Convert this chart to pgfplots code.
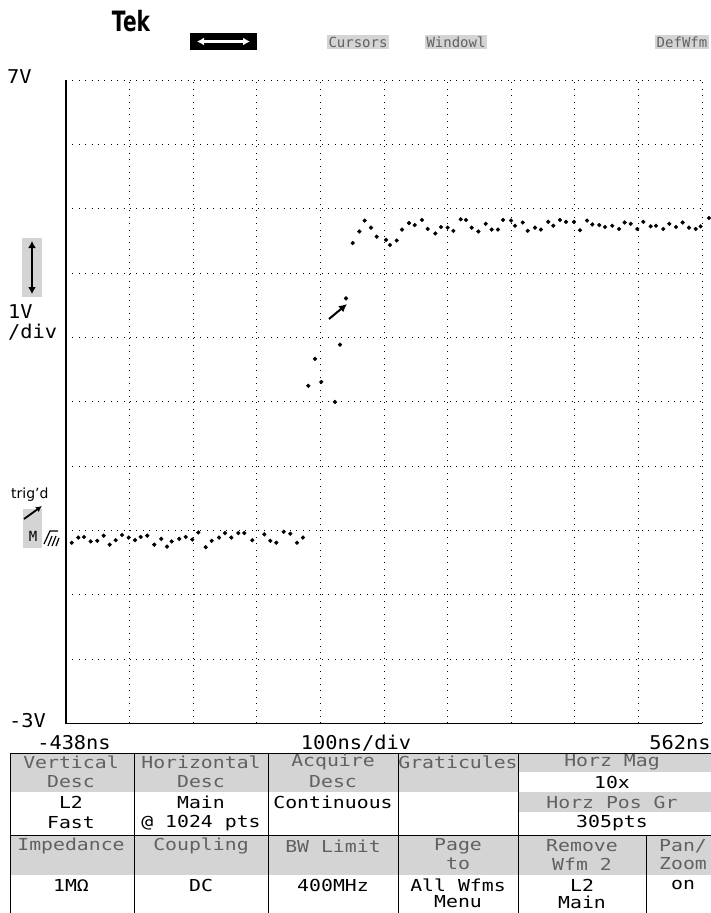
\documentclass[border=0pt]{standalone}
\usepackage{pgfplots}
\usepackage{pgfplotstable}
\pgfplotsset{compat=1.18}
\usepackage{fontspec}
\setmainfont{DejaVu Sans}
\setmonofont{DejaVu Sans Mono}
\usetikzlibrary{arrows.meta}

% sampled trace, time in ns, level in V
\pgfplotstableread{
t v
-429.0 -0.19
-418.7 -0.11
-409.7 -0.10
-399.2 -0.17
-388.8 -0.16
-378.7 -0.08
-369.3 -0.22
-359.9 -0.15
-350.0 -0.07
-339.4 -0.11
-329.5 -0.15
-320.6 -0.10
-310.2 -0.08
-299.2 -0.22
-288.2 -0.13
-279.2 -0.25
-271.8 -0.17
-259.9 -0.13
-249.8 -0.10
-239.4 -0.14
-230.0 -0.03
-218.4 -0.26
-208.9 -0.16
-197.4 -0.11
-188.0 -0.04
-178.1 -0.11
-167.1 -0.04
-157.7 -0.04
-145.1 -0.15
-126.2 -0.06
-116.8 -0.16
-107.3 -0.19
-95.7 -0.02
-85.3 -0.05
-74.8 -0.19
-65.4 -0.11
-57.0 2.25
-46.5 2.67
-36.6 2.31
-15.1 2.00
-7.2 2.89
2.2 3.61
12.8 4.47
23.2 4.65
31.6 4.82
41.5 4.71
50.5 4.57
65.1 4.52
71.4 4.44
82.0 4.51
90.3 4.68
101.3 4.78
110.3 4.75
121.7 4.83
130.7 4.69
142.7 4.62
151.6 4.72
162.1 4.71
171.0 4.66
182.6 4.84
190.9 4.83
199.9 4.71
210.3 4.65
221.9 4.77
231.3 4.68
241.2 4.68
249.1 4.83
261.7 4.82
268.0 4.74
280.1 4.79
287.9 4.66
299.4 4.71
308.8 4.68
320.3 4.80
328.2 4.74
338.7 4.83
348.2 4.80
360.7 4.80
370.2 4.67
381.2 4.82
389.5 4.76
400.5 4.75
409.5 4.72
420.9 4.74
431.5 4.69
440.4 4.79
449.9 4.77
460.3 4.69
469.7 4.80
481.3 4.73
489.7 4.74
501.1 4.69
510.6 4.77
521.1 4.72
531.6 4.79
541.5 4.71
552.1 4.69
559.9 4.73
573.0 4.86
}\trace

\newcommand\scr{\fontsize{19}{21}\selectfont\ttfamily}
\newcommand\mnu{\fontsize{16.5}{18}\selectfont\ttfamily}
\newcommand\barfont{\fontsize{14}{16}\selectfont\ttfamily}
\colorlet{stip}{black!17}
\colorlet{htxt}{black!62}

\begin{document}
\begin{tikzpicture}[x=1pt,y=-1pt]
\fill[white] (0,0) rectangle (711,913);
\useasboundingbox (0,0) rectangle (711,913);

\begin{axis}[
  at={(66pt,-723.4pt)}, anchor=south west,
  scale only axis, width=636pt, height=643pt,
  xmin=-438, xmax=562, ymin=-3, ymax=7,
  xtick={-338,-238,...,562}, ytick={-2,-1,...,7},
  xticklabels={}, yticklabels={}, major tick length=0pt,
  grid=major,
  grid style={black, line width=1pt, dash pattern=on 1pt off 5.4pt},
  axis line style={draw=none},
  clip=false,
]
\addplot[only marks, mark=*, mark size=1.9pt, black] table {\trace};
\end{axis}

% solid left and bottom edges of graticule
\draw[line width=1.8pt] (66,80) -- (66,723.4) -- (702,723.4);
% trigger level marker
\draw[-{Latex[length=8pt,width=8pt]}, line width=2pt] (329,319) -- (347,304);

% top bar
\node[font=\fontsize{28}{28}\selectfont\bfseries, xscale=0.72] at (131,21) {Tek};
\fill[black] (190,33) rectangle (257,50);
\draw[white, line width=2.5pt, {Latex[length=7pt,width=8pt]}-{Latex[length=7pt,width=8pt]}] (197,41.5) -- (250,41.5);
\node[font=\barfont, fill=stip, text=htxt, inner sep=1.5pt] at (358,42) {Cursors};
\node[font=\barfont, fill=stip, text=htxt, inner sep=1.5pt] at (456,42) {Windowl};
\node[font=\barfont, fill=stip, text=htxt, inner sep=1.5pt] at (682,42) {DefWfm};

% left labels
\node[font=\scr, xscale=1.07, anchor=west, inner sep=0pt] at (7,77) {7V};
\fill[stip] (22,238) rectangle (42,297);
\draw[line width=2pt, {Latex[length=7pt,width=8pt]}-{Latex[length=7pt,width=8pt]}] (32,241) -- (32,294);
\node[font=\scr, xscale=1.07, anchor=west, inner sep=0pt] at (8,312) {1V};
\node[font=\scr, xscale=1.07, anchor=west, inner sep=0pt] at (8,332) {/div};
\node[font=\fontsize{14}{16}\selectfont, anchor=west, inner sep=0pt] at (11,495) {trig'd};
\fill[stip] (23,509) rectangle (42,548);
\draw[-{Latex[length=6pt,width=6pt]}, line width=1.8pt] (24,519) -- (42,506);
\node[font=\fontsize{14}{16}\selectfont\ttfamily, inner sep=0pt] at (33,536) {M};
\draw[line width=1.2pt] (44,544) -- (50,531) -- (58,531);
\draw[line width=1.2pt] (48,546) -- (52,536) (52,546) -- (56,536) (56,546) -- (59,538);
\node[font=\scr, xscale=1.07, anchor=west, inner sep=0pt] at (9,721) {-3V};

% horizontal scale
\node[font=\scr, xscale=1.07, inner sep=0pt] at (74,743) {-438ns};
\node[font=\scr, xscale=1.07, inner sep=0pt] at (356,743) {100ns/div};
\node[font=\scr, xscale=1.07, inner sep=0pt] at (680,743) {562ns};

% menu
\fill[stip] (10,753) rectangle (518,792);
\fill[stip] (518,753) rectangle (711,772);
\fill[stip] (518,792) rectangle (711,812);
\fill[stip] (10,835) rectangle (711,875);
\draw[line width=1pt] (10,753) -- (711,753) (10,835) -- (711,835);
\draw[line width=1pt] (10,753) -- (10,913) (134,753) -- (134,913) (268,753) -- (268,913)
  (398,753) -- (398,913) (518,753) -- (518,913) (646,835) -- (646,913);

\begin{scope}[every node/.style={font=\mnu, xscale=1.2, inner sep=0pt}]
\node[text=htxt] at (71,762) {Vertical};
\node[text=htxt] at (71,782) {Desc};
\node at (71,802) {L2};
\node at (71,823) {Fast};
\node[text=htxt] at (201,762) {Horizontal};
\node[text=htxt] at (201,782) {Desc};
\node at (201,802) {Main};
\node at (201,823) {@ 1024 pts};
\node[text=htxt] at (333,762) {Acquire};
\node[text=htxt] at (333,782) {Desc};
\node at (333,802) {Continuous};
\node[text=htxt] at (458,762) {Graticules};
\node[text=htxt] at (612,762) {Horz Mag};
\node at (612,782) {10x};
\node[text=htxt] at (612,802) {Horz Pos Gr};
\node at (612,823) {305pts};

\node[text=htxt] at (71,846) {Impedance};
\node at (71,885) {1MΩ};
\node[text=htxt] at (201,846) {Coupling};
\node at (201,885) {DC};
\node[text=htxt] at (333,846) {BW Limit};
\node at (333,885) {400MHz};
\node[text=htxt] at (458,846) {Page};
\node[text=htxt] at (458,864) {to};
\node at (458,885) {All Wfms};
\node at (458,902) {Menu};
\node[text=htxt] at (582,846) {Remove};
\node[text=htxt] at (582,864) {Wfm 2};
\node at (582,885) {L2};
\node at (582,902) {Main};
\node[text=htxt] at (683,846) {Pan/};
\node[text=htxt] at (683,864) {Zoom};
\node at (683,885) {on};
\end{scope}
\end{tikzpicture}
\end{document}
